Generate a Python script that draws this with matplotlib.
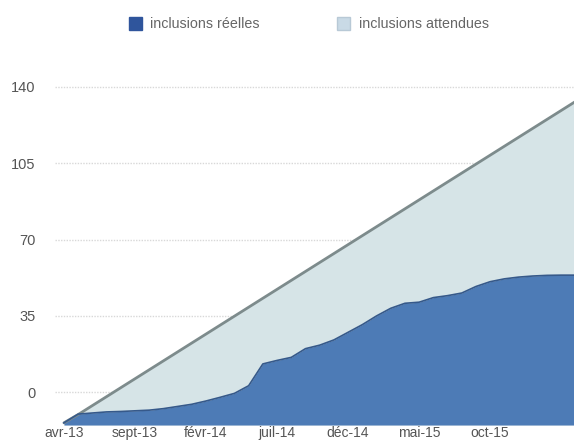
import matplotlib
matplotlib.use("Agg")
import matplotlib.pyplot as plt
from matplotlib.patches import Patch

plt.rcParams['font.family'] = ['Liberation Sans', 'DejaVu Sans']

# Months since avr-13 (monthly points)
months = list(range(37))
reelles = [-14, -10, -9.5, -9, -8.8, -8.5, -8.2, -7.5, -6.5, -5.5, -4, -2.3, -0.5,
           3, 13, 14.6, 16, 20, 21.6, 24, 27.5, 31, 35, 38.5, 40.8, 41.3, 43.4,
           44.3, 45.5, 48.5, 50.7, 52, 52.8, 53.3, 53.6, 53.7, 53.7]
attendues = [-14, -10.2, -6.1, -2, 2.1, 6.2, 10.3, 14.4, 18.5, 22.6, 26.7, 30.8,
             34.9, 39, 43.1, 47.2, 51.3, 55.4, 59.5, 63.6, 67.7, 71.8, 75.9, 80,
             84.1, 88.2, 92.3, 96.4, 100.5, 104.6, 108.7, 112.8, 116.9, 121,
             125.1, 129.2, 133.3]
tick_pos = [0, 5, 10, 15, 20, 25, 30]
tick_labels = ['avr-13', 'sept-13', 'févr-14', 'juil-14', 'déc-14', 'mai-15', 'oct-15']
y_ticks = [0, 35, 70, 105, 140]
series_names = ['inclusions réelles', 'inclusions attendues']

W, H = 574, 441
fig = plt.figure(figsize=(W / 100, H / 100), dpi=100)
ax = fig.add_axes([55 / W, (H - 425) / H, (W - 55) / W, (425 - 76) / H])

ymin = -15
ax.fill_between(months, ymin, attendues, color='#d6e4e7', lw=0, zorder=2)
ax.plot(months, attendues, color='#7d8b8c', lw=2, zorder=4, solid_capstyle='round')
ax.fill_between(months, ymin, reelles, color='#4d7bb6', lw=0, zorder=3)
ax.plot(months, reelles, color='#36598a', lw=1.2, zorder=4)

ax.set_xlim(-0.63, 35.9)
ax.set_ylim(ymin, 145)
ax.set_yticks(y_ticks)
ax.set_xticks(tick_pos)
ax.set_xticklabels(tick_labels)
ax.tick_params(axis='both', length=0, colors='#555555', labelsize=10.5)
ax.tick_params(axis='y', pad=14)
ax.tick_params(axis='x', pad=1, labelsize=10)
ax.grid(axis='y', color='#d8d8d8', linestyle=(0, (1, 1)), lw=1, zorder=1)
ax.grid(axis='x', visible=False)
for s in ax.spines.values():
    s.set_visible(False)

handles = [Patch(facecolor='#2f559c', edgecolor='#2f559c'),
           Patch(facecolor='#c9dae6', edgecolor='#b8c9d6')]
fig.legend(handles, series_names, loc='center', bbox_to_anchor=(0.538, 1 - 24 / H),
           ncol=2, frameon=False, fontsize=10.3, handlelength=0.9, handleheight=1.1,
           columnspacing=5.4, handletextpad=0.6, labelcolor='#666666')

fig.savefig('out.png', dpi=100)
